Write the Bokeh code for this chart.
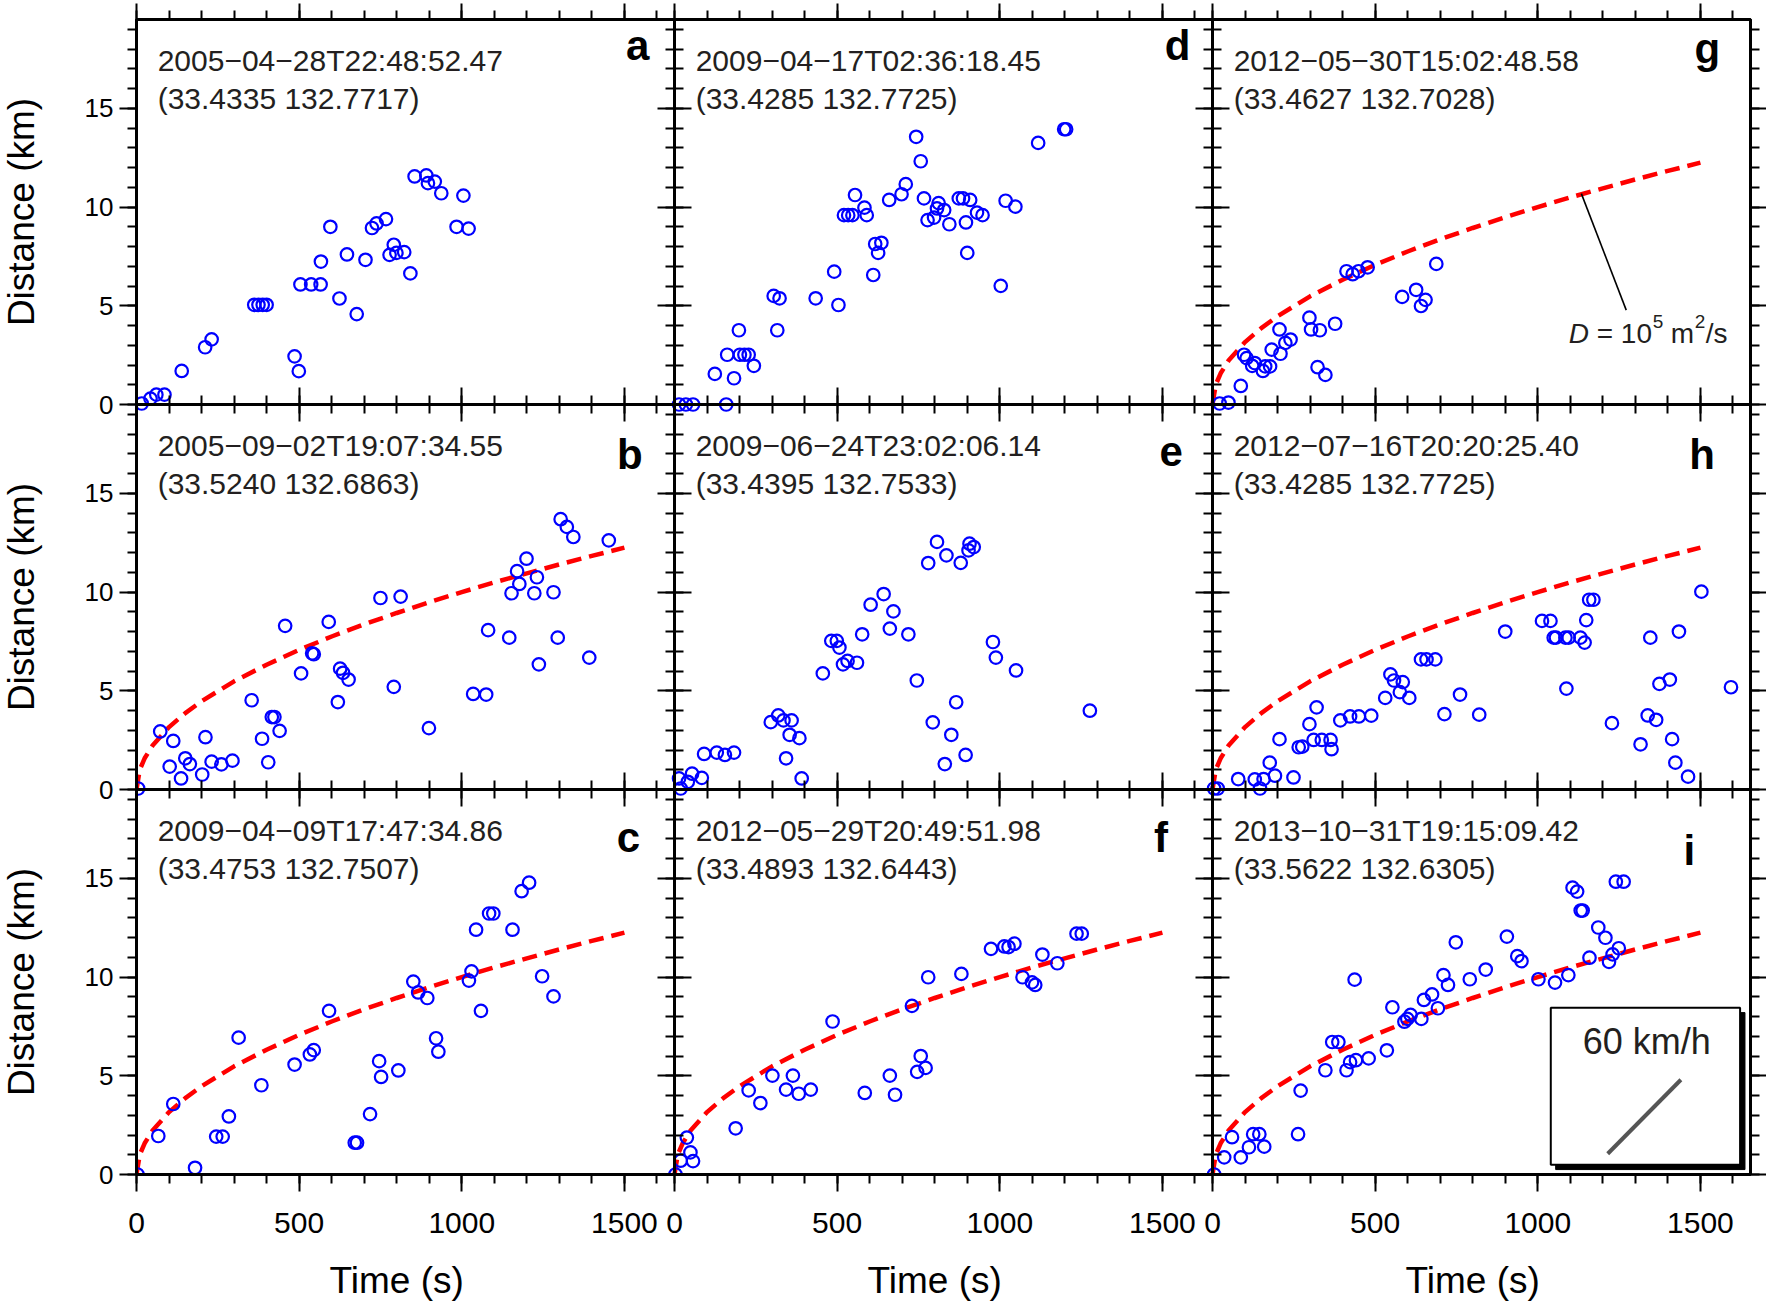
import math
from bokeh.plotting import figure
from bokeh.layouts import row, column
from bokeh.models import Range1d, LinearAxis, FixedTicker, Label
from bokeh.core.properties import value
from bokeh.embed import file_html
from bokeh.resources import INLINE

# ---------------- data (time in s, distance in km) ----------------
T_A = [16, 43, 61, 86, 139, 211, 231, 362, 375, 388, 400, 486, 499, 504, 537, 566, 567, 596, 624, 647,
       677, 704, 724, 738, 767, 778, 791, 799, 823, 842, 855, 891, 896, 917, 937, 984, 1005, 1021]
D_A = [0.05, 0.3, 0.5, 0.5, 1.7, 2.9, 3.3, 5.05, 5.05, 5.05, 5.05, 2.44, 1.69, 6.08, 6.08, 6.08, 7.24, 9.0, 5.37, 7.6,
       4.58, 7.33, 8.94, 9.17, 9.39, 7.58, 8.09, 7.68, 7.72, 6.64, 11.55, 11.6, 11.21, 11.29, 10.7, 9.0, 10.58, 8.91]

T_B = [5, 73, 113, 102, 137, 150, 164, 202, 212, 231, 261, 295, 354, 386, 405, 416, 424, 440, 457, 506,
       540, 545, 591, 619, 626, 635, 652, 750, 791, 812, 899, 1035, 1075, 1081, 1146, 1153, 1170, 1177, 1199, 1223,
       1231, 1237, 1282, 1295, 1304, 1323, 1343, 1392, 1452]
D_B = [0.05, 2.94, 2.46, 1.16, 0.56, 1.58, 1.29, 0.76, 2.65, 1.41, 1.27, 1.46, 4.52, 2.57, 1.38, 3.67, 3.67, 2.97, 8.29, 5.88,
       6.9, 6.85, 8.49, 4.43, 6.12, 5.91, 5.57, 9.7, 5.2, 9.77, 3.11, 4.84, 4.81, 8.07, 7.69, 9.94, 11.06, 10.41, 11.69, 9.94,
       10.75, 6.34, 9.99, 7.69, 13.69, 13.3, 12.79, 6.68, 12.62]

T_C = [3, 67, 113, 180, 245, 265, 284, 314, 384, 486, 533, 545, 592, 671, 678, 718, 746, 752, 805, 851,
       866, 894, 921, 928, 1022, 1030, 1044, 1059, 1084, 1097, 1156, 1184, 1207, 1247, 1282]
D_C = [0, 1.95, 3.57, 0.34, 1.92, 1.92, 2.94, 6.93, 4.52, 5.57, 6.08, 6.3, 8.29, 1.61, 1.61, 3.06, 5.74, 4.94, 5.27, 9.77,
       9.22, 8.94, 6.9, 6.22, 9.82, 10.29, 12.4, 8.29, 13.22, 13.22, 12.4, 14.35, 14.78, 10.04, 9.02]

T_D = [14, 35, 57, 159, 124, 183, 162, 198, 201, 215, 228, 244, 305, 323, 316, 434, 491, 504, 611, 617,
       636, 626, 521, 534, 547, 555, 584, 591, 660, 698, 711, 743, 757, 767, 778, 798, 812, 807, 829, 845,
       874, 887, 896, 909, 900, 930, 947, 1003, 1018, 1048, 1118, 1198, 1204]
D_D = [0, 0, 0, 0, 1.55, 1.33, 2.52, 3.76, 2.52, 2.52, 2.52, 1.96, 5.5, 5.38, 3.76, 5.38, 6.73, 5.04, 6.56, 8.13,
       8.19, 7.68, 9.59, 9.59, 9.59, 10.61, 9.97, 9.59, 10.36, 10.65, 11.16, 13.56, 12.32, 10.44, 9.34, 9.47, 10.2, 9.93, 9.85, 9.13,
       10.44, 10.44, 9.22, 10.36, 7.68, 9.72, 9.59, 6.01, 10.32, 10.02, 13.25, 13.94, 13.94]

T_E = [19, 14, 41, 54, 84, 91, 130, 155, 183, 296, 319, 335, 360, 354, 384, 343, 391, 456, 482, 499,
       507, 518, 532, 561, 577, 603, 643, 673, 662, 719, 745, 780, 807, 836, 880, 907, 920, 904, 794, 866,
       851, 831, 895, 979, 988, 1050, 1277]
D_E = [0.05, 0.56, 0.39, 0.8, 0.59, 1.8, 1.87, 1.75, 1.87, 3.41, 3.75, 3.5, 3.5, 2.77, 2.6, 1.58, 0.56, 5.88, 7.53, 7.53,
       7.19, 6.34, 6.51, 6.42, 7.86, 9.36, 9.9, 9.02, 8.15, 7.86, 5.52, 11.47, 12.54, 11.86, 11.48, 12.45, 12.28, 12.11, 3.4, 4.42,
       2.77, 1.29, 1.75, 7.47, 6.68, 6.03, 3.99]

T_F = [3, 19, 38, 49, 57, 188, 228, 264, 301, 343, 364, 382, 419, 486, 585, 662, 678, 730, 746, 757,
       772, 780, 882, 973, 1014, 1027, 1045, 1070, 1099, 1109, 1131, 1177, 1236, 1252]
D_F = [0, 0.7, 1.87, 1.12, 0.68, 2.34, 4.26, 3.62, 5.01, 4.3, 5.01, 4.09, 4.3, 7.75, 4.13, 5.01, 4.04, 8.54, 5.2, 6.0,
       5.4, 9.99, 10.16, 11.43, 11.55, 11.52, 11.69, 9.99, 9.73, 9.6, 11.14, 10.7, 12.2, 12.2]

T_G = [22, 49, 87, 97, 105, 122, 130, 155, 162, 177, 182, 209, 206, 224, 240, 298, 303, 330, 323, 347,
       377, 412, 431, 449, 477, 583, 626, 655, 641, 688]
D_G = [0.05, 0.1, 0.94, 2.52, 2.35, 1.96, 2.1, 1.7, 1.93, 1.93, 2.78, 2.57, 3.8, 3.12, 3.29, 4.4, 3.8, 3.76, 1.89, 1.5,
       4.09, 6.75, 6.6, 6.75, 6.95, 5.45, 5.81, 5.3, 4.99, 7.12]

T_H = [5, 16, 79, 130, 157, 146, 176, 192, 206, 249, 265, 276, 298, 320, 311, 336, 363, 366, 393, 423,
       450, 488, 531, 547, 558, 585, 576, 605, 641, 658, 685, 713, 761, 820, 900, 1013, 1039, 1049, 1056, 1085,
       1095, 1131, 1088, 1144, 1149, 1158, 1171, 1228, 1316, 1338, 1346, 1364, 1374, 1406, 1413, 1423, 1434, 1462, 1503, 1594]
D_H = [0.05, 0.05, 0.53, 0.51, 0.53, 0.05, 1.36, 0.7, 2.55, 0.61, 2.14, 2.17, 3.31, 4.16, 2.51, 2.51, 2.51, 2.04, 3.5, 3.7,
       3.7, 3.74, 4.64, 5.83, 5.52, 5.44, 4.93, 4.64, 6.59, 6.59, 6.59, 3.82, 4.81, 3.79, 8.0, 8.54, 8.54, 7.69, 7.69, 7.69,
       7.69, 7.69, 5.11, 7.44, 8.58, 9.61, 9.61, 3.36, 2.29, 3.75, 7.69, 3.53, 5.35, 5.57, 2.55, 1.36, 8.0, 0.65, 10.02, 5.18]

T_I = [5, 36, 60, 87, 112, 125, 144, 159, 263, 271, 347, 368, 387, 412, 423, 441, 437, 480, 536, 553,
       590, 599, 609, 642, 650, 675, 693, 710, 724, 748, 791, 840, 905, 937, 950, 1002, 1053, 1094, 1107, 1121,
       1132, 1138, 1159, 1186, 1208, 1219, 1230, 1249, 1240, 1264]
D_I = [0, 0.87, 1.89, 0.87, 1.38, 2.04, 2.04, 1.41, 2.04, 4.25, 5.28, 6.71, 6.71, 5.28, 5.69, 5.79, 9.87, 5.88, 6.29, 8.47,
       7.74, 7.88, 8.08, 7.88, 8.84, 9.12, 8.42, 10.1, 9.6, 11.76, 9.89, 10.38, 12.05, 11.06, 10.81, 9.89, 9.72, 10.1, 14.53, 14.33,
       13.37, 13.37, 10.98, 12.51, 11.99, 10.77, 11.15, 11.46, 14.83, 14.83]

# diffusion front for D = 1e5 m^2/s
CURVE_T = [0, 10, 25, 50, 100, 150, 200, 300, 400, 500, 600, 700, 800, 900, 1000, 1100, 1200, 1300, 1400, 1500]
CURVE_D = [0, 1.0, 1.58, 2.24, 3.16, 3.87, 4.47, 5.48, 6.32, 7.07, 7.75, 8.37, 8.94, 9.49, 10.0, 10.49, 10.95, 11.4, 11.83, 12.25]

LETTERS = ["a", "b", "c", "d", "e", "f", "g", "h", "i"]
DATES = ["2005−04−28T22:48:52.47", "2005−09−02T19:07:34.55", "2009−04−09T17:47:34.86",
         "2009−04−17T02:36:18.45", "2009−06−24T23:02:06.14", "2012−05−29T20:49:51.98",
         "2012−05−30T15:02:48.58", "2012−07−16T20:20:25.40", "2013−10−31T19:15:09.42"]
LOCS = ["(33.4335 132.7717)", "(33.5240 132.6863)", "(33.4753 132.7507)",
        "(33.4285 132.7725)", "(33.4395 132.7533)", "(33.4893 132.6443)",
        "(33.4627 132.7028)", "(33.4285 132.7725)", "(33.5622 132.6305)"]
TIMES = [T_A, T_B, T_C, T_D, T_E, T_F, T_G, T_H, T_I]
DISTS = [D_A, D_B, D_C, D_D, D_E, D_F, D_G, D_H, D_I]
SHOW_CURVE = [False, True, True, False, False, True, True, True, True]

X_MAJOR = [0, 500, 1000, 1500]
X_MINOR = list(range(0, 1700, 100))
Y_MAJOR = [0, 5, 10, 15]
Y_MINOR = list(range(0, 20))
X_LABEL = "Time (s)"
Y_LABEL = "Distance (km)"

# ---------------- layout constants ----------------
X_MAX = 1654
Y_MAX = 19.5
FW, FH = 538, 385
FONT = "Liberation Sans"
LEFT_W = 46          # strip holding the y titles
MAIN_LEFT = 136 - LEFT_W
MAIN_BOTTOM = 75
BOTTOM_H = 55        # strip holding the x titles
LETTER_POS = {"a": (1541, 18.2), "b": (1517, 16.95), "c": (1512, 17.05),
              "d": (1547, 18.2), "e": (1527, 17.1), "f": (1496, 17.05),
              "g": (1521, 18.05), "h": (1505, 16.95), "i": (1466, 16.4)}
TXT_Y1, TXT_Y2 = 17.4, 15.52

XR = ["default", "x1", "x2"]
YR = ["default", "y1", "y2"]

p = figure(frame_width=3 * FW, frame_height=3 * FH,
           x_range=Range1d(0, 3 * X_MAX), y_range=Range1d(-2 * Y_MAX, Y_MAX),
           x_axis_location=None, y_axis_location=None,
           toolbar_location=None, output_backend="svg",
           min_border_left=MAIN_LEFT, min_border_right=16, min_border_top=19,
           min_border_bottom=MAIN_BOTTOM,
           background_fill_color="white", border_fill_color="white")
p.extra_x_ranges = {"x1": Range1d(-X_MAX, 2 * X_MAX), "x2": Range1d(-2 * X_MAX, X_MAX)}
p.extra_y_ranges = {"y1": Range1d(-Y_MAX, 2 * Y_MAX), "y2": Range1d(0, 3 * Y_MAX)}
p.outline_line_color = "black"
p.outline_line_width = 3
p.grid.visible = False


def base_style(ax, t_in, t_out):
    ax.axis_line_width = 3
    ax.axis_line_color = "black"
    ax.major_tick_line_width = 2
    ax.minor_tick_line_width = 2
    ax.major_tick_line_color = "black"
    ax.minor_tick_line_color = "black"
    ax.major_tick_in = t_in
    ax.major_tick_out = t_out
    ax.minor_tick_in = 9 if t_in else 0
    ax.minor_tick_out = 9 if t_out else 0


def hide_labels(ax):
    ax.major_label_text_color = None
    ax.major_label_text_font_size = "0px"
    ax.major_label_standoff = 0


# ---- outer axes: one per side, spanning the three panels of that side ----
ALL_X_TICKS = [c * X_MAX + t for c in range(3) for t in X_MAJOR]
ALL_X_MINOR = [c * X_MAX + t for c in range(3) for t in X_MINOR]
X_OVERRIDES = {c * X_MAX + t: str(t) for c in range(3) for t in X_MAJOR}
ALL_Y_TICKS = [k * Y_MAX + t for k in range(3) for t in Y_MAJOR]
ALL_Y_MINOR = [k * Y_MAX + t for k in range(3) for t in Y_MINOR]
Y_OVERRIDES = {k * Y_MAX + t: str(t) for k in range(3) for t in Y_MAJOR}

ax = LinearAxis(ticker=FixedTicker(ticks=ALL_X_TICKS, minor_ticks=ALL_X_MINOR),
                major_label_overrides=X_OVERRIDES)
base_style(ax, 0, 17)
ax.major_label_text_font = FONT
ax.major_label_text_font_size = "30px"
ax.major_label_text_color = "black"
ax.major_label_standoff = 21
p.add_layout(ax, "below")

ax = LinearAxis(ticker=FixedTicker(ticks=ALL_Y_TICKS, minor_ticks=ALL_Y_MINOR),
                major_label_overrides=Y_OVERRIDES, y_range_name="y2")
base_style(ax, 0, 17)
ax.major_label_text_font = FONT
ax.major_label_text_font_size = "26px"
ax.major_label_text_color = "black"
ax.major_label_standoff = 6
p.add_layout(ax, "left")

ax = LinearAxis(ticker=FixedTicker(ticks=ALL_X_TICKS, minor_ticks=ALL_X_MINOR))
base_style(ax, 0, 16)
hide_labels(ax)
p.add_layout(ax, "above")

ax = LinearAxis(ticker=FixedTicker(ticks=ALL_Y_TICKS, minor_ticks=ALL_Y_MINOR), y_range_name="y2")
base_style(ax, 0, 16)
hide_labels(ax)
p.add_layout(ax, "right")

# ---- inner panel boundaries: ticks on both sides ----
for c in range(3):
    for r in range(3):
        if r < 2:
            ax = LinearAxis(ticker=FixedTicker(ticks=X_MAJOR, minor_ticks=X_MINOR),
                            x_range_name=XR[c], y_range_name=YR[r], fixed_location=0, bounds=(0, X_MAX))
            base_style(ax, 17, 17)
            hide_labels(ax)
            p.add_layout(ax, "below")
        if c > 0:
            ax = LinearAxis(ticker=FixedTicker(ticks=Y_MAJOR, minor_ticks=Y_MINOR),
                            x_range_name=XR[c], y_range_name=YR[r], fixed_location=0, bounds=(0, Y_MAX))
            base_style(ax, 17, 17)
            hide_labels(ax)
            p.add_layout(ax, "left")

for idx in range(9):
    c, r = idx // 3, idx % 3
    xr, yr = XR[c], YR[r]
    if SHOW_CURVE[idx]:
        p.line(CURVE_T, CURVE_D, line_color="#FF0000", line_width=4.5, line_dash="15 8",
               x_range_name=xr, y_range_name=yr)
    p.scatter(TIMES[idx], DISTS[idx], marker="circle", size=12.5,
              fill_color=None, line_color="#0000FF", line_width=2.2,
              x_range_name=xr, y_range_name=yr)
    p.add_layout(Label(x=65, y=TXT_Y1, text=DATES[idx], text_font=FONT, text_font_size="30px",
                       text_color="#231F20", text_baseline="alphabetic",
                       x_range_name=xr, y_range_name=yr))
    p.add_layout(Label(x=65, y=TXT_Y2, text=LOCS[idx], text_font=FONT, text_font_size="30px",
                       text_color="#231F20", text_baseline="alphabetic",
                       x_range_name=xr, y_range_name=yr))
    lx, ly = LETTER_POS[LETTERS[idx]]
    p.add_layout(Label(x=lx, y=ly, text=LETTERS[idx], text_font=FONT, text_font_size="42px",
                       text_font_style="bold", text_color="black", text_align="center",
                       text_baseline="alphabetic", x_range_name=xr, y_range_name=yr))

# annotation in panel g (column 2, row 0)
p.segment(x0=[1134], y0=[10.68], x1=[1272], y1=[4.78], line_color="black", line_width=1.6,
          x_range_name="x2", y_range_name="default")
ann_x, ann_y = 1095, 3.6
pieces = [("D", 0, 0, "28px", "italic"), ("= 10", 28, 0, "28px", "normal"),
          ("5", 84, 12, "19px", "normal"), ("m", 102, 0, "28px", "normal"),
          ("2", 126, 12, "19px", "normal"), ("/s", 137, 0, "28px", "normal")]
for txt, dx, dy, fs, st in pieces:
    p.add_layout(Label(x=ann_x, y=ann_y, x_offset=dx, y_offset=dy, text=txt, text_font=FONT,
                       text_font_size=fs, text_font_style=st, text_color="#231F20",
                       text_baseline="alphabetic", x_range_name="x2", y_range_name="default"))

# speed scale box in panel i (column 2, row 2)
BOX = (1040, 1622, 0.5, 8.45)
p.quad(left=[BOX[0] + 15], right=[BOX[1] + 15], bottom=[BOX[2] - 0.25], top=[BOX[3] - 0.25],
       fill_color="black", line_color="black", x_range_name="x2", y_range_name="y2")
p.quad(left=[BOX[0]], right=[BOX[1]], bottom=[BOX[2]], top=[BOX[3]],
       fill_color="white", line_color="black", line_width=2, x_range_name="x2", y_range_name="y2")
SPEED_KMH = 60
seg_t0, seg_d0, seg_dt = 1215, 1.05, 225
p.segment(x0=[seg_t0], y0=[seg_d0], x1=[seg_t0 + seg_dt], y1=[seg_d0 + seg_dt * SPEED_KMH / 3600.0],
          line_color="#555555", line_width=4, x_range_name="x2", y_range_name="y2")
p.add_layout(Label(x=1335, y=6.75, text="60 km/h", text_font=FONT, text_font_size="36px",
                   text_color="#231F20", text_align="center", text_baseline="alphabetic",
                   x_range_name="x2", y_range_name="y2"))

# ---- strip with the three y-axis titles (left) ----
left = figure(frame_width=LEFT_W, frame_height=3 * FH,
              x_range=Range1d(0, LEFT_W), y_range=Range1d(0, 3 * Y_MAX),
              x_axis_location=None, y_axis_location=None,
              toolbar_location=None, output_backend="svg",
              min_border_left=0, min_border_right=0, min_border_top=19, min_border_bottom=MAIN_BOTTOM,
              background_fill_color="white", border_fill_color="white")
left.outline_line_color = None
left.grid.visible = False
left.text(x=[LEFT_W / 2 - 2] * 3, y=[k * Y_MAX + Y_MAX / 2 for k in range(3)], text=[Y_LABEL] * 3,
          angle=math.pi / 2, text_font=value(FONT), text_font_size=value("37px"),
          text_color="black", text_align="center", text_baseline="middle")

# ---- strip with the three x-axis titles (bottom) ----
bottom = figure(frame_width=3 * FW, frame_height=BOTTOM_H,
                x_range=Range1d(0, 3 * X_MAX), y_range=Range1d(0, BOTTOM_H),
                x_axis_location=None, y_axis_location=None,
                toolbar_location=None, output_backend="svg",
                min_border_left=136, min_border_right=16, min_border_top=0, min_border_bottom=0,
                background_fill_color="white", border_fill_color="white")
bottom.outline_line_color = None
bottom.grid.visible = False
bottom.text(x=[c * X_MAX + 800 for c in range(3)], y=[BOTTOM_H - 31] * 3, text=[X_LABEL] * 3,
            text_font=value(FONT), text_font_size=value("37px"),
            text_color="black", text_align="center", text_baseline="middle")

layout = column(row(left, p), bottom)
open("out.html", "w").write(file_html(layout, INLINE))
